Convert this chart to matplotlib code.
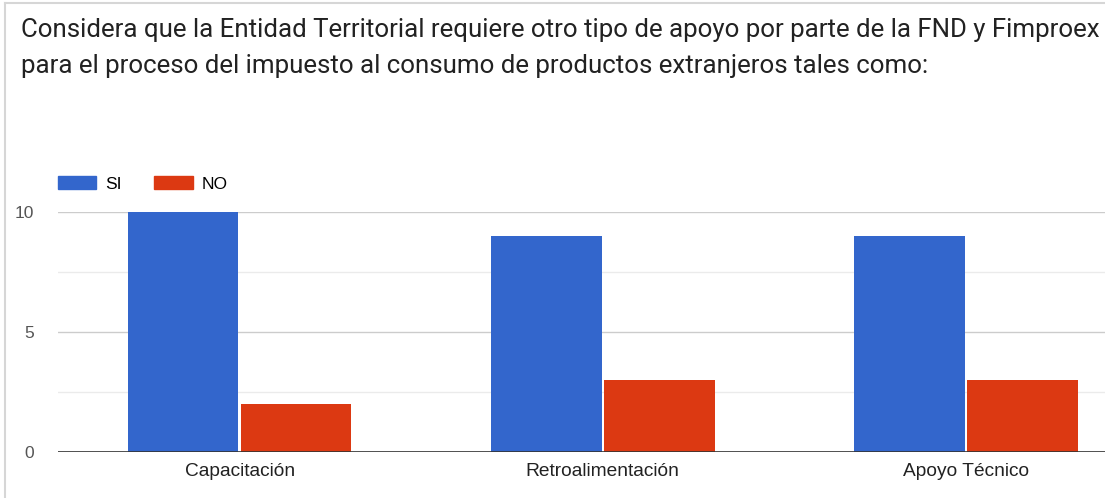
import matplotlib.pyplot as plt
from matplotlib.patches import Patch
import numpy as np

categories = ['Capacitación', 'Retroalimentación', 'Apoyo Técnico']
si_values = [10, 9, 9]
no_values = [2, 3, 3]
title_lines = ['Considera que la Entidad Territorial requiere otro tipo de apoyo por parte de la FND y Fimproex',
               'para el proceso del impuesto al consumo de productos extranjeros tales como:']

plt.rcParams['font.family'] = ['Liberation Sans', 'DejaVu Sans']

blue = '#3366cc'
red = '#dc3912'

fig = plt.figure(figsize=(11.05, 4.98), dpi=100)
W, H = 1105, 498
# plot area in pixel coordinates
left, right, top, bottom = 58, 1105, 212, 452
ax = fig.add_axes([left / W, 1 - bottom / H, (right - left) / W, (bottom - top) / H])

x = np.arange(len(categories))
bw = 0.305
ax.bar(x - bw / 2 - 0.003, si_values, width=bw, color=blue, zorder=3)
ax.bar(x + bw / 2 + 0.003, no_values, width=bw, color=red, zorder=3)

ax.set_xlim(-0.5, 2.383)
ax.set_ylim(0, 10)
ax.set_yticks([0, 5, 10])
ax.set_yticks([2.5, 7.5], minor=True)
ax.grid(axis='y', which='major', color='#cccccc', linewidth=1, zorder=0)
ax.grid(axis='y', which='minor', color='#ebebeb', linewidth=1, zorder=0)
ax.axhline(0, color='#333333', linewidth=1.2, zorder=4)
for s in ax.spines.values():
    s.set_visible(False)
ax.tick_params(axis='both', which='both', length=0)
ax.tick_params(axis='y', labelsize=12.5, colors='#555555', pad=17)
ax.set_xticks(x)
ax.set_xticklabels(categories, fontsize=13.8, color='#222222')
ax.tick_params(axis='x', pad=8)

# title, two lines placed on their baselines
title_kw = dict(fontsize=18.6, color='#222222', va='baseline', ha='left', family=['Roboto', 'DejaVu Sans'])
fig.text(21 / W, 1 - 37 / H, title_lines[0], **title_kw)
fig.text(21 / W, 1 - 73 / H, title_lines[1], **title_kw)

# legend
handles = [Patch(color=blue, label='SI'), Patch(color=red, label='NO')]
fig.legend(handles=handles, loc='center left', bbox_to_anchor=(58 / W, 1 - 184 / H), ncol=2,
           frameon=False, fontsize=12.5, handlelength=2.2, handleheight=0.8, handletextpad=0.5,
           columnspacing=1.9, borderaxespad=0, borderpad=0)

# card border
fig.add_artist(plt.Line2D([5 / W, 5 / W], [0, 1 - 3 / H], color='#d6d6d6', linewidth=1.5))
fig.add_artist(plt.Line2D([5 / W, 1], [1 - 3 / H, 1 - 3 / H], color='#d6d6d6', linewidth=1.5))

fig.savefig('out.png', dpi=100)
